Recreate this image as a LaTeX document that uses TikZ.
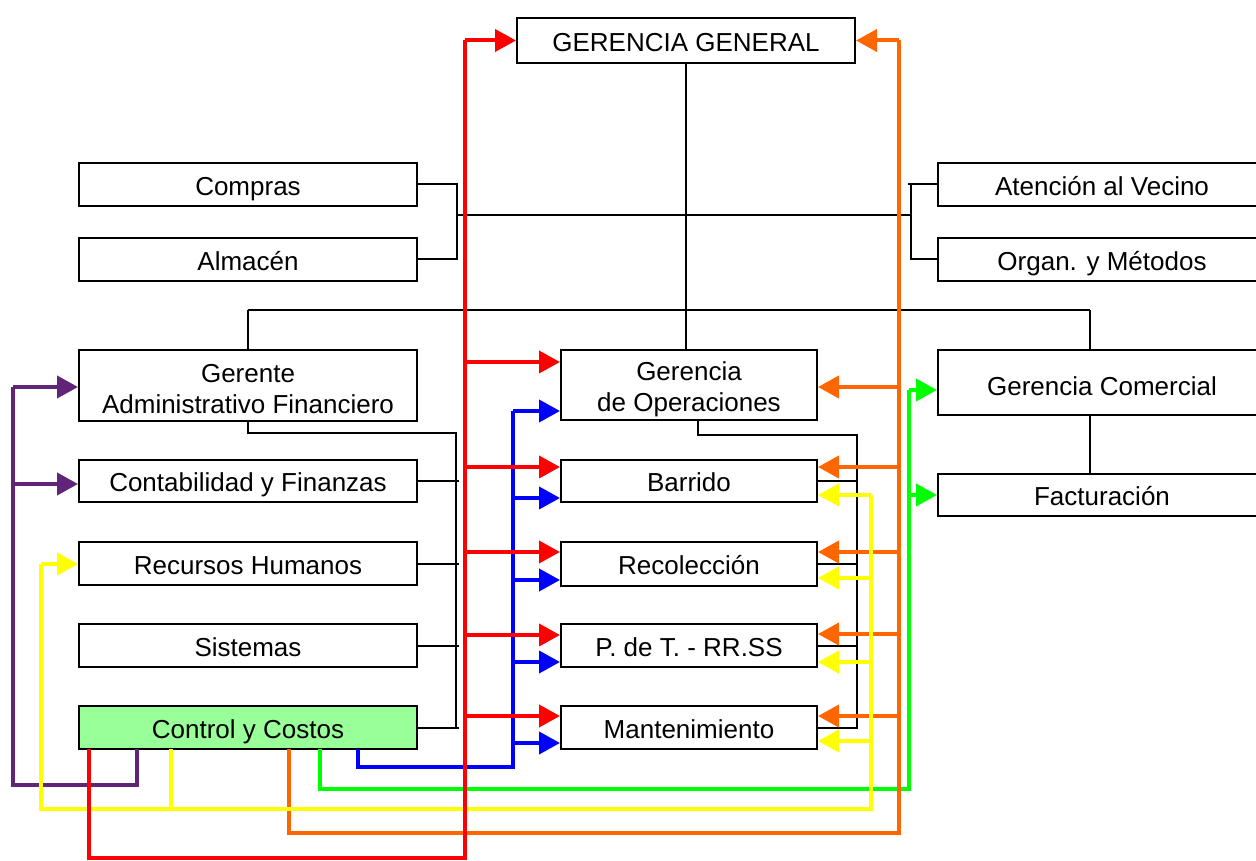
\documentclass[tikz,border=0pt]{standalone}
\usepackage{fontspec}
\setmainfont{Liberation Sans}
\usetikzlibrary{arrows.meta}
\definecolor{cred}{RGB}{255,0,0}
\definecolor{cblue}{RGB}{0,0,255}
\definecolor{corange}{RGB}{255,102,0}
\definecolor{cyellow}{RGB}{255,255,0}
\definecolor{cgreen}{RGB}{0,255,0}
\definecolor{cpurple}{RGB}{96,36,120}
\definecolor{cfill}{RGB}{153,255,153}
\begin{document}
\begin{tikzpicture}[x=1pt,y=-1pt,
  box/.style={draw=black,line width=2pt,fill=white,inner sep=0pt,align=center,
    font=\fontsize{26}{31}\selectfont,text height=21.6pt,text depth=0pt},
  emptybox/.style={draw=black,line width=2pt,fill=white,inner sep=0pt},
  twotext/.style={inner sep=0pt,align=center,font=\fontsize{26}{31}\selectfont},
  blk/.style={draw=black,line width=2pt},
  col/.style={line width=4pt,-{Triangle[length=21pt,width=22pt]}},
  plain/.style={line width=4pt}]
\useasboundingbox (0,0) rectangle (1256,861);
\fill[white] (0,0) rectangle (1256,861);

% nodes
\node[box,text height=22.6pt,minimum width=338pt,minimum height=45pt] (gg) at (686,40.5) {GERENCIA GENERAL};
\node[box,minimum width=338pt,minimum height=43pt] (compras) at (248,184.5) {Compras};
\node[box,minimum width=338pt,minimum height=43pt] (almacen) at (248,259.5) {Almacén};
\node[box,minimum width=328pt,minimum height=43pt] (atencion) at (1102,184.5) {Atención al Vecino};
\node[box,minimum width=328pt,minimum height=43pt] (organ) at (1102,259.5) {Organ. y Métodos};
\node[emptybox,minimum width=338pt,minimum height=71pt] (gerente) at (248,385.5) {};
\node[twotext] (gerenteT) at (248,389.5) {Gerente\\Administrativo Financiero};
\node[emptybox,minimum width=256pt,minimum height=70pt] (gdo) at (689,385) {};
\node[twotext] (gdoT) at (689,389) {Gerencia\\de Operaciones};
\node[box,text height=25.6pt,minimum width=328pt,minimum height=65pt] (gc) at (1102,382.5) {Gerencia Comercial};
\node[box,minimum width=328pt,minimum height=42pt] (fact) at (1102,495) {Facturación};
\node[box,minimum width=338pt,minimum height=42pt] (contab) at (248,481) {Contabilidad y Finanzas};
\node[box,minimum width=338pt,minimum height=43pt] (rh) at (248,563.5) {Recursos Humanos};
\node[box,minimum width=338pt,minimum height=43pt] (sist) at (248,645.5) {Sistemas};
\node[box,fill=cfill,minimum width=338pt,minimum height=43pt] (control) at (248,727.5) {Control y Costos};
\node[box,minimum width=256pt,minimum height=42pt] (barrido) at (689,481) {Barrido};
\node[box,minimum width=256pt,minimum height=44pt] (recol) at (689,564) {Recolección};
\node[box,minimum width=256pt,minimum height=43pt] (pdt) at (689,645.5) {P. de T. - RR.SS};
\node[box,minimum width=256pt,minimum height=43pt] (mant) at (689,727.5) {Mantenimiento};

% black organisation lines
\draw[blk] (gg.south) -- (gg.south |- gdo.north);
\draw[blk] (compras.east) -| (457,215) |- (almacen.east);
\draw[blk] (457,215) -- (911,215);
\draw[blk] (908,184.5) -- (atencion.west);
\draw[blk] (911,184.5) |- (organ.west);
\draw[blk] (248,310) -- (1090,310);
\draw[blk] (248,310) -- (gerente.north);
\draw[blk] (1090,310) -- (1090,350);
\draw[blk] (1090,415) -- (1090,474);
\draw[blk] (gerente.south) -- (248,433) -- (456,433) -- (456,729);
\foreach \n in {contab,rh,sist,control} \draw[blk] (\n.east) -- (459,0 |- \n.east);
\draw[blk] (698,420) -- (698,435) -- (857,435) -- (857,729);
\foreach \n in {barrido,recol,pdt,mant} \draw[blk] (\n.east) -- (857,0 |- \n.east);

% purple
\coordinate (cp) at (137,749);
\draw[plain,cpurple] (cp) -- (137,785) -- (13,785) -- (13,387);
\foreach \yy/\t in {387/gerente,484/contab}
  \draw[col,cpurple] (13,\yy) coordinate (tmp) -- (tmp -| \t.west);

% green
\coordinate (cg) at (320,749);
\draw[plain,cgreen] (cg) -- (320,789) -- (909,789) -- (909,390);
\foreach \yy/\t in {390/gc,495/fact}
  \draw[col,cgreen] (909,\yy) coordinate (tmp) -- (tmp -| \t.west);

% blue
\coordinate (cb) at (358,749);
\draw[plain,cblue] (cb) -- (358,767) -- (513,767) -- (513,411);
\foreach \yy/\t in {411/gdo,498/barrido,580/recol,662/pdt,743/mant}
  \draw[col,cblue] (513,\yy) coordinate (tmp) -- (tmp -| \t.west);

% orange
\coordinate (co) at (289,749);
\draw[plain,corange] (co) -- (289,833) -- (899,833) -- (899,40.5);
\draw[col,corange] (899,40.5) -- (gg.east);
\foreach \yy/\t in {387/gdo,467/barrido,552/recol,634/pdt,716/mant}
  \draw[col,corange] (899,\yy) coordinate (tmp) -- (tmp -| \t.east);

% yellow
\coordinate (cy) at (171,749);
\draw[plain,cyellow] (cy) -- (171,809);
\draw[plain,cyellow] (41,564) -- (41,809) -- (871,809) -- (871,495);
\draw[col,cyellow] (41,564) -- (41,564 -| rh.west);
\foreach \yy/\t in {495/barrido,578/recol,662/pdt,741/mant}
  \draw[col,cyellow] (871,\yy) coordinate (tmp) -- (tmp -| \t.east);

% red
\coordinate (cr) at (89,749);
\draw[plain,cred] (cr) -- (89,858) -- (465,858) -- (465,40.5);
\draw[col,cred] (465,40.5) -- (gg.west);
\foreach \yy/\t in {362/gdo,467/barrido,552/recol,635/pdt,716/mant}
  \draw[col,cred] (465,\yy) coordinate (tmp) -- (tmp -| \t.west);
\end{tikzpicture}
\end{document}
